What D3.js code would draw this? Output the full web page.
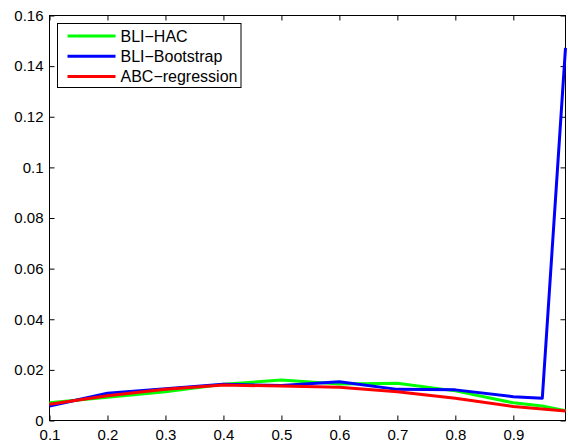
<!DOCTYPE html>
<html>
<head>
<meta charset="utf-8">
<script src="https://cdn.jsdelivr.net/npm/d3@7"></script>
<style>
  body { margin: 0; background: #fff; }
  text { font-family: "Liberation Sans", Arial, sans-serif; }
</style>
</head>
<body>
<div id="chart"></div>
<script>
// Data
const xValues = [0.1, 0.2, 0.3, 0.4, 0.5, 0.6, 0.7, 0.8, 0.9, 0.95, 0.99]
const hac = [0.0070, 0.0092, 0.0114, 0.0143, 0.0160, 0.0144, 0.0147, 0.0117, 0.0070, 0.0057, 0.0039]
const bootstrap = [0.0057, 0.0108, 0.0125, 0.0143, 0.0138, 0.0153, 0.0123, 0.0121, 0.0094, 0.0088, 0.1472]
const abc = [0.0064, 0.0098, 0.0123, 0.0140, 0.0136, 0.0131, 0.0114, 0.0088, 0.0055, 0.0045, 0.0038]
const seriesNames = ['BLI\u2212HAC', 'BLI\u2212Bootstrap', 'ABC\u2212regression']
const seriesColors = ['#00ff00', '#0000ff', '#ff0000']
const xTicks = [0.1, 0.2, 0.3, 0.4, 0.5, 0.6, 0.7, 0.8, 0.9]
const yTicks = [0, 0.02, 0.04, 0.06, 0.08, 0.1, 0.12, 0.14, 0.16]

const series = [hac, bootstrap, abc]

// Dimensions
const dims = {
  width: 568,
  height: 446,
  left: 49.5,
  right: 565.5,
  top: 15.5,
  bottom: 420.5,
}

const svg = d3.select('#chart')
  .append('svg')
  .attr('width', dims.width)
  .attr('height', dims.height)

// Scales
const xScale = d3.scaleLinear()
  .domain([0.1, 0.99])
  .range([dims.left, dims.right])

const yScale = d3.scaleLinear()
  .domain([0, 0.16])
  .range([dims.bottom, dims.top])

const fmt = d => d === 0 ? '0' : String(+d.toFixed(2))

// Axes (matlab box style, ticks inward)
svg.append('g')
  .attr('transform', `translate(0, ${dims.bottom})`)
  .call(d3.axisBottom(xScale).tickValues(xTicks).tickSizeInner(-5).tickSizeOuter(0).tickPadding(9).tickFormat(fmt))
svg.append('g')
  .attr('transform', `translate(0, ${dims.top})`)
  .call(d3.axisTop(xScale).tickValues(xTicks).tickSizeInner(-5).tickSizeOuter(0).tickFormat(''))
svg.append('g')
  .attr('transform', `translate(${dims.left}, 0)`)
  .call(d3.axisLeft(yScale).tickValues(yTicks).tickSizeInner(-5).tickSizeOuter(0).tickPadding(6).tickFormat(fmt))
svg.append('g')
  .attr('transform', `translate(${dims.right}, 0)`)
  .call(d3.axisRight(yScale).tickValues(yTicks).tickSizeInner(-5).tickSizeOuter(0).tickFormat(''))

svg.selectAll('.domain').remove()
svg.selectAll('.tick line').attr('stroke', '#000')
svg.selectAll('.tick text')
  .attr('fill', '#000')
  .style('font-size', '15px')

// Box
svg.append('rect')
  .attr('x', dims.left)
  .attr('y', dims.top)
  .attr('width', dims.right - dims.left)
  .attr('height', dims.bottom - dims.top)
  .attr('fill', 'none')
  .attr('stroke', '#000')
  .attr('stroke-width', 1)

// Lines
const lineGenerator = d3.line()
  .x((d, i) => xScale(xValues[i]))
  .y(d => yScale(d))

series.forEach((s, i) => {
  svg.append('path')
    .datum(s)
    .attr('d', lineGenerator)
    .attr('fill', 'none')
    .attr('stroke', seriesColors[i])
    .attr('stroke-width', 3)
    .attr('stroke-linejoin', 'round')
})

// Legend
const legend = svg.append('g')
  .attr('transform', 'translate(57.5, 23.5)')

legend.append('rect')
  .attr('width', 183.5)
  .attr('height', 64)
  .attr('fill', '#fff')
  .attr('stroke', '#000')

seriesNames.forEach((name, i) => {
  const y = 12.5 + i * 20.3
  legend.append('line')
    .attr('x1', 10)
    .attr('x2', 58)
    .attr('y1', y)
    .attr('y2', y)
    .attr('stroke', seriesColors[i])
    .attr('stroke-width', 3)
  legend.append('text')
    .attr('x', 63)
    .attr('y', y)
    .attr('dy', '0.35em')
    .style('font-size', '16px')
    .text(name)
})
</script>
</body>
</html>
